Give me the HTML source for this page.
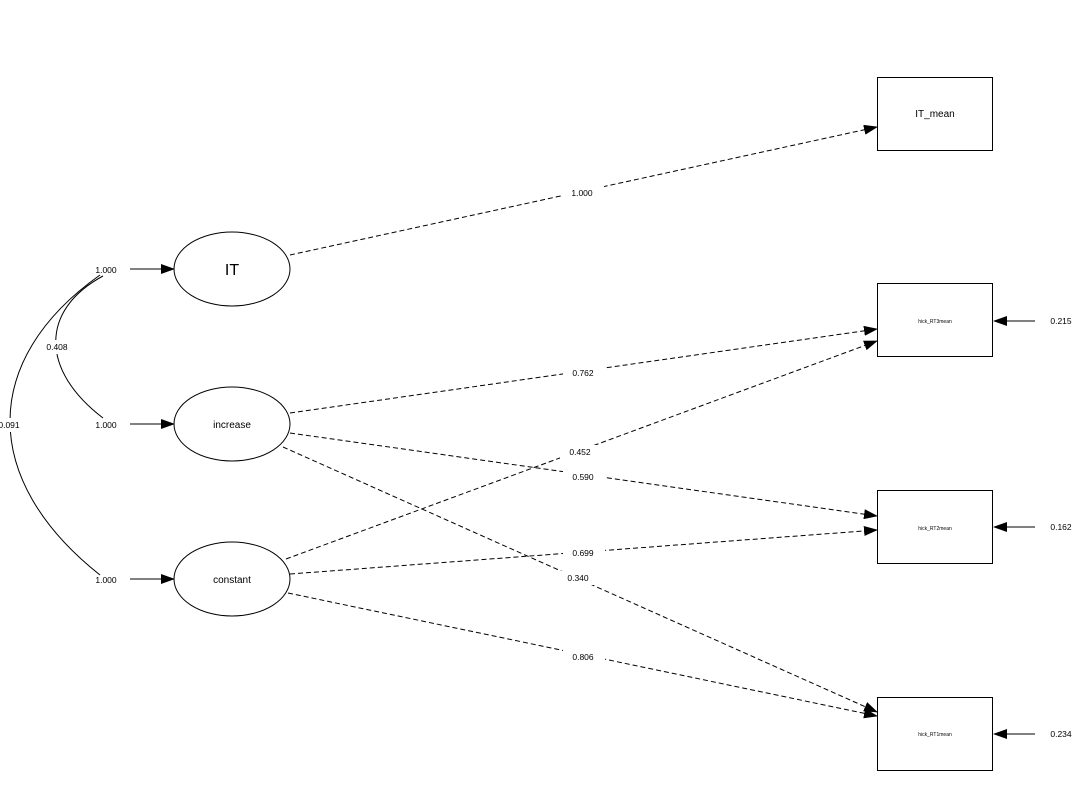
<!DOCTYPE html>
<html><head><style>body{margin:0;background:#fff}svg{display:block}</style></head><body>
<svg width="1084" height="793" viewBox="0 0 1084 793" xmlns="http://www.w3.org/2000/svg" font-family="Liberation Sans, sans-serif">
<defs><marker id="a" markerWidth="14" markerHeight="10" refX="13" refY="5" orient="auto" markerUnits="userSpaceOnUse"><path d="M0,0L14,5L0,10z" fill="#000"/></marker></defs>
<g fill="none" stroke="#000" stroke-width="1">
<rect x="877.5" y="77.5" width="115" height="73"/>
<rect x="877.5" y="283.5" width="115" height="73"/>
<rect x="877.5" y="490.5" width="115" height="73"/>
<rect x="877.5" y="697.5" width="115" height="73"/>
<ellipse cx="232" cy="269" rx="58" ry="37"/>
<ellipse cx="232" cy="424" rx="58" ry="37"/>
<ellipse cx="232" cy="579" rx="58" ry="37"/>
<line x1="130" y1="269" x2="174" y2="269" marker-end="url(#a)"/>
<line x1="130" y1="424" x2="174" y2="424" marker-end="url(#a)"/>
<line x1="130" y1="579" x2="174" y2="579" marker-end="url(#a)"/>
<line x1="1035" y1="321" x2="994" y2="321" marker-end="url(#a)"/>
<line x1="1035" y1="527" x2="994" y2="527" marker-end="url(#a)"/>
<line x1="1035" y1="734" x2="994" y2="734" marker-end="url(#a)"/>
<path d="M103,276 C40,310 40,370 103,418"/>
<path d="M100,275 C-20,360 -20,480 100,575"/>
<g stroke-dasharray="5,3">
<line x1="290" y1="255" x2="877" y2="127" marker-end="url(#a)"/>
<line x1="290" y1="413" x2="877" y2="329" marker-end="url(#a)"/>
<line x1="290" y1="433" x2="877" y2="516" marker-end="url(#a)"/>
<line x1="283" y1="447" x2="877" y2="712" marker-end="url(#a)"/>
<line x1="286" y1="559" x2="877" y2="341" marker-end="url(#a)"/>
<line x1="290" y1="574" x2="877" y2="530" marker-end="url(#a)"/>
<line x1="288" y1="593" x2="877" y2="716" marker-end="url(#a)"/>
</g>
</g>
<g fill="#fff">
<rect x="562" y="186" width="42" height="14"/>
<rect x="563" y="366" width="42" height="14"/>
<rect x="563" y="470" width="42" height="14"/>
<rect x="558" y="571" width="42" height="14"/>
<rect x="560" y="445" width="42" height="14"/>
<rect x="563" y="546" width="42" height="14"/>
<rect x="563" y="650" width="42" height="14"/>
<rect x="40" y="340" width="34" height="14"/>
<rect x="0" y="418" width="20" height="14"/>
</g>
<g font-size="8.5" text-anchor="middle" fill="#000">
<text x="582" y="196">1.000</text>
<text x="583" y="376">0.762</text>
<text x="583" y="480">0.590</text>
<text x="578" y="581">0.340</text>
<text x="580" y="455">0.452</text>
<text x="583" y="556">0.699</text>
<text x="583" y="660">0.806</text>
<text x="57" y="350">0.408</text>
<text x="9" y="428">0.091</text>
<text x="106" y="273">1.000</text>
<text x="106" y="428">1.000</text>
<text x="106" y="583">1.000</text>
<text x="1061" y="324">0.215</text>
<text x="1061" y="530">0.162</text>
<text x="1061" y="737">0.234</text>
<text x="232" y="428" font-size="10">increase</text>
<text x="232" y="583" font-size="10">constant</text>
<text x="935" y="117" font-size="10">IT_mean</text>
<text x="935" y="323" font-size="5">hick_RT3mean</text>
<text x="935" y="530" font-size="5">hick_RT2mean</text>
<text x="935" y="736" font-size="5">hick_RT1mean</text>
</g>
<text x="232" y="275" font-size="16" text-anchor="middle">IT</text>
</svg>
</body></html>
